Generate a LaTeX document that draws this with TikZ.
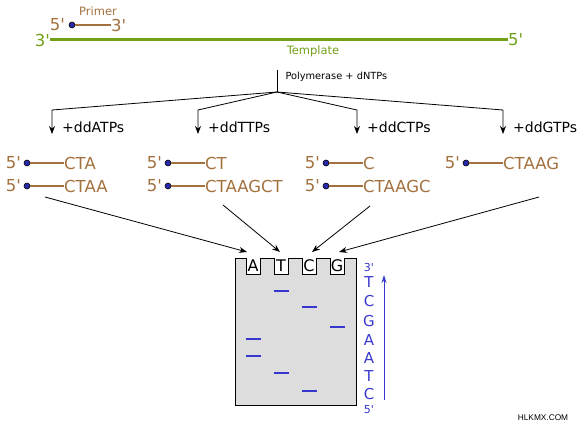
\documentclass[tikz,border=0pt]{standalone}
\usepackage{fontspec}
\setmainfont{DejaVu Sans}[Ligatures=TeXOff]
\newfontfamily\markfont{Liberation Sans}
\usetikzlibrary{arrows.meta}
\definecolor{primerbrown}{RGB}{163,113,62}
\definecolor{templgreen}{RGB}{115,160,25}
\definecolor{dotblue}{RGB}{40,40,170}
\definecolor{bandblue}{RGB}{55,55,205}
\definecolor{gelgray}{RGB}{221,221,221}
\tikzstyle{dot}=[circle, inner sep=0pt, minimum size=6pt, draw=black, fill=dotblue, line width=.6pt]
\tikzstyle{strand}=[primerbrown, line width=2.8pt]
\tikzstyle{seq}=[text=primerbrown, inner sep=0pt, font=\fontsize{16.5}{16.5}\selectfont]
\tikzstyle{tip}=[-{Stealth[length=8pt, width=6pt]}, line width=.8pt]
\tikzstyle{band}=[bandblue, line width=2.6pt]
\tikzstyle{lane}=[inner sep=0pt, font=\fontsize{16}{16}\selectfont]
\tikzstyle{readout}=[text=bandblue, inner sep=0pt, font=\fontsize{15}{15}\selectfont]

\begin{document}
\begin{tikzpicture}[x=1pt, y=-1pt]
  \useasboundingbox (0,0) rectangle (585,425);

  % primer and template
  \node[text=primerbrown, font=\fontsize{11.5}{11.5}\selectfont] (primer) at (98,11) {Primer};
  \node[dot] (pdot) at (72,25) {};
  \node[seq, anchor=east] (p5) at (65,25) {5'};
  \node[seq, anchor=west] (p3) at (111,25) {3'};
  \draw[strand] (pdot.east) -- (p3.west);
  \node[seq, text=templgreen, anchor=east] (t3) at (50,40) {3'};
  \node[seq, text=templgreen, anchor=west] (t5) at (508,40) {5'};
  \draw[templgreen, line width=3pt] (t3.east) -- (t5.west);
  \node[text=templgreen, font=\fontsize{11.5}{11.5}\selectfont] (templ) at (313,51) {Template};

  % polymerase step, split in four
  \coordinate (ptop) at (277,70);
  \coordinate (split) at (277,92);
  \node[anchor=west, font=\fontsize{9.8}{9.8}\selectfont] (poly) at (282,77) {Polymerase + dNTPs};
  \draw[line width=.8pt] (ptop) -- (split);
  \foreach \n/\x in {A/52, T/198, C/357, G/503}{
    \coordinate (k\n) at (\x,110);
    \draw[tip] (split) -- (k\n) -- ++(0,24);
    \node[anchor=west, inner sep=0pt, font=\fontsize{14}{14}\selectfont] (dd\n) at (\x+10,127) {+dd\n TPs};
  }

  % stopped fragments
  \foreach \n/\x/\y/\s in {a1/27/163/CTA, a2/27/186/CTAA, t1/168/163/CT, t2/168/186/CTAAGCT,
                           c1/326/163/C, c2/326/186/CTAAGC, g1/466/163/CTAAG}{
    \node[dot] (d\n) at (\x,\y) {};
    \node[seq, anchor=east] (f\n) at (\x-6,\y) {5'};
    \node[seq, anchor=west] (s\n) at (\x+37,\y) {\s};
    \draw[strand] (d\n.east) -- (s\n.west);
  }

  % gel with four wells
  \filldraw[fill=gelgray, line width=.8pt] (235,405) -- (235,258)
    \foreach \x in {246,274,302,330}{ -- (\x,258) -- (\x,274) -- (\x+14,274) -- (\x+14,258) }
    -- (356,258) -- (356,405) -- cycle;
  \foreach \n/\x in {A/253, T/281, C/309, G/337}
    \node[lane] (w\n) at (\x,266) {\n};

  % loading arrows
  \coordinate (fromA) at (45,197);   \coordinate (toA) at (247,252);
  \coordinate (fromT) at (223,205);  \coordinate (toT) at (280,252);
  \coordinate (fromC) at (370,206);  \coordinate (toC) at (312,252);
  \coordinate (fromG) at (539,197);  \coordinate (toG) at (339,252);
  \foreach \n in {A,T,C,G}
    \draw[tip] (from\n) -- (to\n);

  % bands
  \foreach \x/\y in {253/339, 253/356, 281/291, 281/373, 309/307, 309/391, 337/327}
    \draw[band] (\x-7.5,\y) -- (\x+7.5,\y);

  % read-out
  \node[readout, font=\fontsize{11}{11}\selectfont] (r3) at (369,267) {3'};
  \foreach \b/\y [count=\i] in {T/282, C/301, G/321, A/340, A/358, T/376, C/394}
    \node[readout] (r\i) at (369,\y) {\b};
  \node[readout, font=\fontsize{11}{11}\selectfont] (r5) at (369,410) {5'};
  \coordinate (rlow) at (384,400);
  \coordinate (rhigh) at (384,275);
  \draw[-{Stealth[length=8pt, width=5pt]}, bandblue, line width=.8pt] (rlow) -- (rhigh);

  \node[font=\markfont\fontsize{8.3}{8.3}\selectfont] (mark) at (543,418) {HLKMX.COM};
\end{tikzpicture}
\end{document}
